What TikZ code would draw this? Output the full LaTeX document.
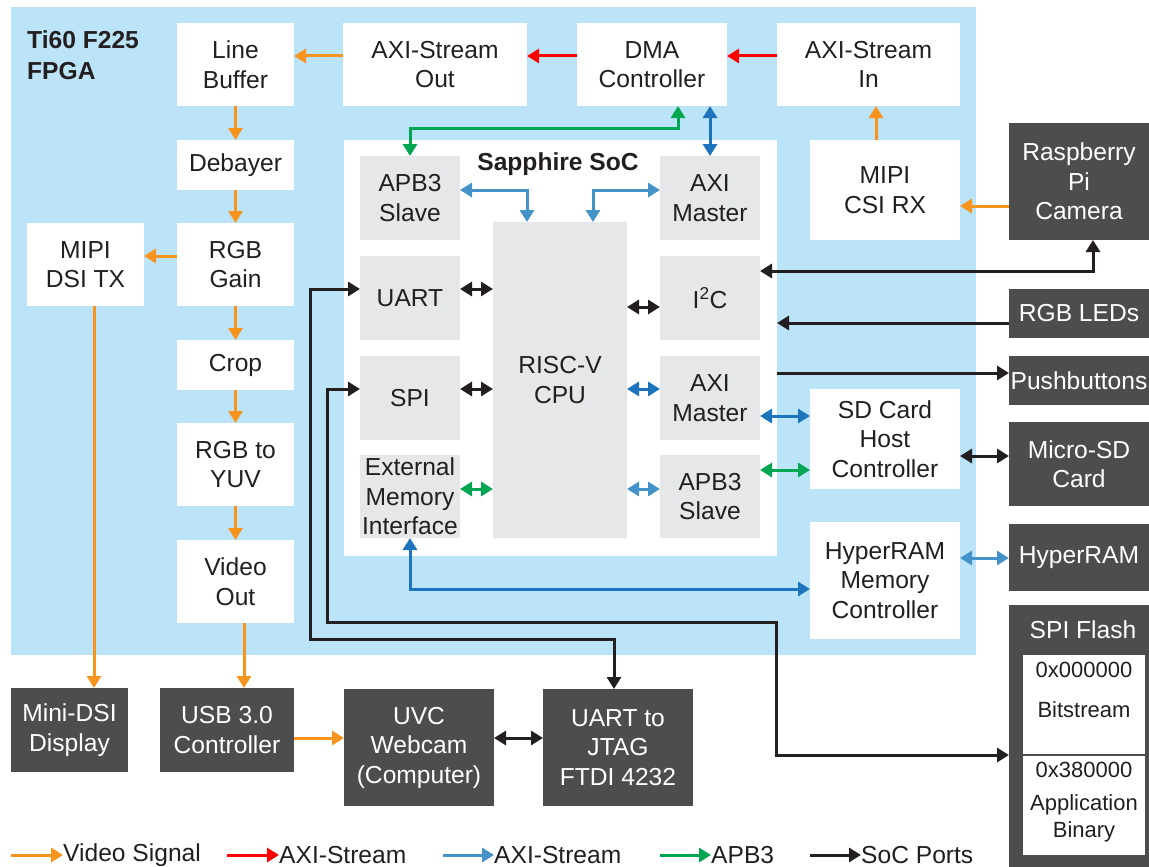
\documentclass[tikz,border=0pt]{standalone}
\usepackage{fontspec}
\setmainfont{Liberation Sans}
\usetikzlibrary{arrows.meta}
\definecolor{fpga}{HTML}{BBE4F8}
\definecolor{gbox}{HTML}{E6E7E8}
\definecolor{dbox}{HTML}{4D4D4D}
\definecolor{txt}{HTML}{231F20}
\definecolor{corange}{HTML}{F7941D}
\definecolor{cred}{HTML}{FF0000}
\definecolor{cdblue}{HTML}{1C75BC}
\definecolor{clblue}{HTML}{4393C9}
\definecolor{cgreen}{HTML}{00A651}
\newcommand{\blk}[7]{\node[#1, minimum width={(#4)-(#2)}, minimum height={(#5)-(#3)}] (#6) at ({((#2)+(#4))/2},{((#3)+(#5))/2}) {#7};}
\tikzset{
  box/.style={rectangle, inner sep=0pt, outer sep=0pt, align=center, font=\fontsize{24.6}{29.5}\selectfont, text=txt},
  wbox/.style={box, fill=white},
  gbx/.style={box, fill=gbox},
  dbx/.style={box, fill=dbox, text=white},
  con/.style={line width=3pt},
  vid/.style={con, color=corange},
  axs/.style={con, color=cred},
  axb/.style={con, color=cdblue},
  axl/.style={con, color=clblue},
  apb/.style={con, color=cgreen},
  sp/.style={con, color=txt},
  flt/.style={box, font=\fontsize{22}{27}\selectfont},
  legtext/.style={anchor=west, inner sep=0pt, font=\fontsize{24.6}{29.5}\selectfont, text=txt},
  >={Triangle[length=12pt,width=14pt]}
}
\begin{document}
\begin{tikzpicture}[x=1pt,y=-1pt]
\useasboundingbox (0,0) rectangle (1149,867);
\fill[white] (0,0) rectangle (1149,867);
% FPGA region
\blk{box,fill=fpga}{11}{7}{976}{655}{fpgaregion}{}
\node[anchor=west, align=left, font=\bfseries\fontsize{24.6}{31}\selectfont, text=txt, inner sep=0pt] (title) at (27,55) {Ti60 F225\\FPGA};
% white boxes
\blk{wbox}{177}{23}{294}{106}{lb}{Line\\Buffer}
\blk{wbox}{343}{23}{527}{106}{aso}{AXI-Stream\\Out}
\blk{wbox}{577}{23}{727}{106}{dma}{DMA\\Controller}
\blk{wbox}{777}{23}{960}{106}{asi}{AXI-Stream\\In}
\blk{wbox}{177}{140}{294}{190}{deb}{Debayer}
\blk{wbox}{27}{223}{144}{306}{dsi}{MIPI\\DSI TX}
\blk{wbox}{177}{223}{294}{306}{gain}{RGB\\Gain}
\blk{wbox}{177}{340}{294}{390}{crop}{Crop}
\blk{wbox}{177}{423}{294}{506}{yuv}{RGB to\\YUV}
\blk{wbox}{177}{540}{294}{623}{vout}{Video\\Out}
\blk{wbox}{344}{140}{777}{556}{soc}{}
\blk{wbox}{810}{140}{960}{240}{csi}{MIPI\\CSI RX}
\blk{wbox}{810}{389}{960}{489}{sdc}{SD Card\\Host\\Controller}
\blk{wbox}{810}{522}{960}{639}{hrc}{HyperRAM\\Memory\\Controller}
\node[font=\bfseries\fontsize{24.6}{29.5}\selectfont, text=txt, inner sep=0pt] (soctitle) at (558,164) {Sapphire SoC};
% gray boxes
\blk{gbx}{360}{156}{460}{240}{apbL}{APB3\\Slave}
\blk{gbx}{660}{156}{760}{240}{axiT}{AXI\\Master}
\blk{gbx}{493}{222}{627}{538}{cpu}{RISC-V\\CPU}
\blk{gbx}{360}{256}{460}{340}{uart}{UART}
\blk{gbx}{360}{356}{460}{440}{spi}{SPI}
\blk{gbx}{360}{455}{460}{538}{emi}{External\\Memory\\Interface}
\blk{gbx}{660}{256}{760}{340}{i2c}{I\textsuperscript{2}C}
\blk{gbx}{660}{356}{760}{440}{axiM}{AXI\\Master}
\blk{gbx}{660}{455}{760}{538}{apbR}{APB3\\Slave}
% dark boxes
\blk{dbx}{1009}{123}{1149}{240}{cam}{Raspberry\\Pi\\Camera}
\blk{dbx}{1009}{289}{1149}{338}{leds}{RGB LEDs}
\blk{dbx}{1009}{356}{1149}{405}{push}{Pushbuttons}
\blk{dbx}{1009}{422}{1149}{506}{msd}{Micro-SD\\Card}
\blk{dbx}{1009}{524}{1149}{591}{hram}{HyperRAM}
\blk{dbx}{1009}{605}{1149}{867}{flash}{}
\node[box, text=white] (flashtitle) at (1083,630) {SPI Flash};
\blk{wbox}{1023}{655}{1145}{754}{fb1}{}
\blk{wbox}{1023}{756}{1145}{855}{fb2}{}
\node[flt] (a1) at (1084,670) {0x000000};
\node[flt] (b1) at (1084,710) {Bitstream};
\node[flt] (a2) at (1084,770) {0x380000};
\node[flt] (b2) at (1084,818) {Application\\Binary};
\blk{dbx}{11}{688}{128}{772}{mdsi}{Mini-DSI\\Display}
\blk{dbx}{160}{688}{294}{772}{usb}{USB 3.0\\Controller}
\blk{dbx}{344}{689}{494}{806}{uvc}{UVC\\Webcam\\(Computer)}
\blk{dbx}{543}{689}{693}{806}{jtag}{UART to\\JTAG\\FTDI 4232}
% video path
\draw[vid,->] (aso.west |- 0,56) -- (lb.east |- 0,56);
\draw[axs,->] (dma.west |- 0,56) -- (aso.east |- 0,56);
\draw[axs,->] (asi.west |- 0,56) -- (dma.east |- 0,56);
\draw[vid,->] (876,0 |- csi.north) -- (876,0 |- asi.south);
\draw[vid,->] (cam.west |- 0,206) -- (csi.east |- 0,206);
\draw[vid,->] (lb.south) -- (deb.north);
\draw[vid,->] (deb.south) -- (gain.north);
\draw[vid,->] (gain.south) -- (crop.north);
\draw[vid,->] (crop.south) -- (yuv.north);
\draw[vid,->] (yuv.south) -- (vout.north);
\draw[vid,->] (gain.west |- 0,256) -- (dsi.east |- 0,256);
\draw[vid,->] (244,0 |- vout.south) -- (244,0 |- usb.north);
\draw[vid,->] (94,0 |- dsi.south) -- (94,0 |- mdsi.north);
\draw[vid,->] (usb.east |- 0,738) -- (uvc.west |- 0,738);
\draw[sp,<->] (uvc.east |- 0,738) -- (jtag.west |- 0,738);
% SoC internals
\draw[apb,<->] (678,0 |- dma.south) -- (678,128) -- (410,128) -- (410,0 |- apbL.north);
\draw[axb,<->] (710,0 |- dma.south) -- (710,0 |- axiT.north);
\draw[axl,<->] (apbL.east |- 0,190) -| (527,0 |- cpu.north);
\draw[axl,<->] (axiT.west |- 0,190) -| (593,0 |- cpu.north);
\draw[sp,<->] (uart.east |- 0,289) -- (cpu.west |- 0,289);
\draw[sp,<->] (spi.east |- 0,389) -- (cpu.west |- 0,389);
\draw[apb,<->] (emi.east |- 0,489) -- (cpu.west |- 0,489);
\draw[sp,<->] (cpu.east |- 0,307) -- (i2c.west |- 0,307);
\draw[axb,<->] (cpu.east |- 0,389) -- (axiM.west |- 0,389);
\draw[axl,<->] (cpu.east |- 0,489) -- (apbR.west |- 0,489);
% external ports
\draw[sp,<->] (i2c.east |- 0,271) -- (1093,271) -- (1093,0 |- cam.south);
\draw[sp,->] (leds.west |- 0,323) -- (soc.east |- 0,323);
\draw[sp,->] (soc.east |- 0,373) -- (push.west |- 0,373);
\draw[axb,<->] (axiM.east |- 0,416) -- (sdc.west |- 0,416);
\draw[apb,<->] (apbR.east |- 0,470) -- (sdc.west |- 0,470);
\draw[sp,<->] (sdc.east |- 0,456) -- (msd.west |- 0,456);
\draw[axl,<->] (hrc.east |- 0,558) -- (hram.west |- 0,558);
\draw[axb,<->] (410,0 |- emi.south) -- (410,589) -- (hrc.west |- 0,589);
\draw[sp,<->] (uart.west |- 0,289) -- (310,289) -- (310,639) -- (614,639) -- (614,0 |- jtag.north);
\draw[sp,<->] (spi.west |- 0,389) -- (327,389) -- (327,622) -- (776,622) -- (776,755) -- (flash.west |- 0,755);
% legend
\node[legtext] (lv) at (63,855) {Video Signal};
\node[legtext] (lr) at (279,855) {AXI-Stream};
\node[legtext] (lb2) at (494,855) {AXI-Stream};
\node[legtext] (lg) at (711,855) {APB3};
\node[legtext] (lk) at (861,855) {SoC Ports};
\coordinate (cv) at (11,855);
\coordinate (cr) at (227,855);
\coordinate (cb) at (443,855);
\coordinate (cg) at (660,855);
\coordinate (ck) at (810,855);
\draw[vid,->] (cv) -- (lv.west);
\draw[axs,->] (cr) -- (lr.west);
\draw[axl,->] (cb) -- (lb2.west);
\draw[apb,->] (cg) -- (lg.west);
\draw[sp,->] (ck) -- (lk.west);
\end{tikzpicture}
\end{document}
